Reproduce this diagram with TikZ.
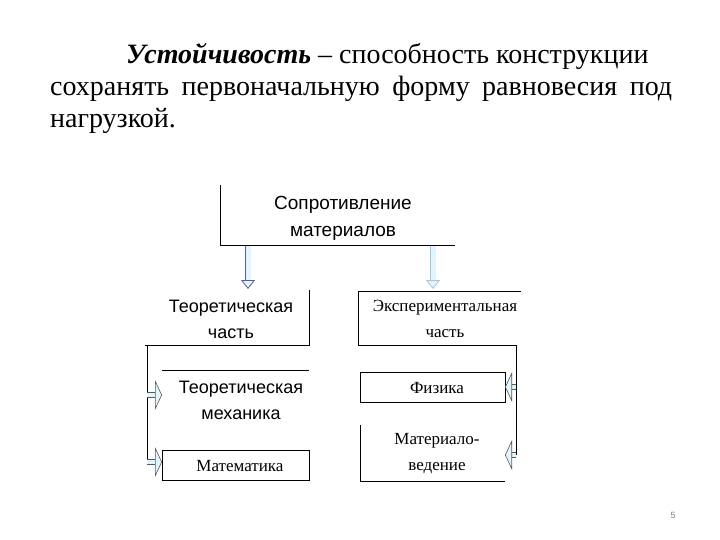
\documentclass[tikz,border=0pt]{standalone}
\usepackage{fontspec}
\setmainfont{Liberation Serif}
\setsansfont{Liberation Sans}
\usetikzlibrary{arrows.meta}

\begin{document}
\begin{tikzpicture}[x=1pt, y=-1pt]

\colorlet{cEdge}{blue!30!gray}
\colorlet{cFill}{cyan!12}
\colorlet{cPale}{cyan!35!gray!60}

\tikzset{
  title/.style  = {font=\fontsize{28}{32}\selectfont, anchor=base west, inner sep=0pt},
  sans/.style   = {font=\sffamily\fontsize{18}{26}\selectfont, align=center, inner sep=0pt},
  serif/.style  = {font=\fontsize{17}{26}\selectfont, align=center, inner sep=0pt},
  frame/.style  = {line width=1pt, black},
  downarrow/.style = {draw=cEdge, double=cFill, double distance=5pt, line width=0.8pt,
    -{Triangle[length=9pt, width=14pt, fill=cFill, line width=0.8pt]}},
  sidearrow/.style = {draw=gray!70!black, double=cFill, double distance=4pt, line width=0.6pt,
    -{Triangle[length=7pt, width=30pt, fill=cFill, line width=0.6pt]}},
}

\useasboundingbox (0,0) rectangle (720,540);

%% ---------- definition ----------
\node[title] (def1) at (126,64) {\textbf{\textit{Устойчивость}} – способность конструкции};
\node[title] (def2) at (50,96) {\makebox[622pt][s]{сохранять первоначальную форму равновесия под}};
\node[title] (def3) at (50,128) {нагрузкой.};

%% ---------- top ----------
\node[sans, font=\sffamily\fontsize{19}{27}\selectfont] (som) at (343,218) {Сопротивление\\материалов};
\draw[frame] (220,185) -- (220,245) -- (455,245);

\coordinate (somL) at (248,246);
\coordinate (somR) at (433,246);
\coordinate (teoIn) at (248,289);
\coordinate (expIn) at (433,289);
\draw[downarrow] (somL) -- (teoIn);
\draw[downarrow, draw=cPale] (somR) -- (expIn);

%% ---------- theory, left ----------
\node[sans] (teo) at (231,319) {Теоретическая\\часть};
\draw[frame] (309,290) -- (309,345) -- (145,345);

\node[sans] (mech) at (241,400) {Теоретическая\\механика};
\draw[frame] (162,370) -- (309,370);

\node[serif] (math) at (240,466) {Математика};
\draw[frame] (162,450) rectangle (309,480);

\coordinate (lbus0) at (147,345);
\coordinate (lbus1) at (147,395);
\coordinate (lbus2) at (147,462);
\coordinate (mechIn) at (162,395);
\coordinate (mathIn) at (162,462);
\draw[frame] (lbus0) -- (lbus2);
\draw[sidearrow] (lbus1) -- (mechIn);
\draw[sidearrow] (lbus2) -- (mathIn);

%% ---------- experiment, right ----------
\node[serif] (exp) at (445,319) {Экспериментальная\\часть};
\draw[frame] (521,291) -- (358,291) -- (358,345) -- (516,345);

\node[serif] (phys) at (437,388) {Физика};
\draw[frame] (360,372) rectangle (505,402);

\node[serif] (mat) at (437,454) {Материало-\\ведение};
\draw[frame] (360,425) -- (360,481) -- (505,481);

\coordinate (rbus0) at (516,345);
\coordinate (rbus1) at (516,387);
\coordinate (rbus2) at (516,455);
\coordinate (physIn) at (505,387);
\coordinate (matIn) at (505,455);
\draw[frame] (rbus0) -- (rbus2);
\draw[sidearrow] (rbus1) -- (physIn);
\draw[sidearrow] (rbus2) -- (matIn);

%% ---------- page ----------
\node[font=\sffamily\fontsize{9}{9}\selectfont, gray] (page) at (673,515) {5};

\end{tikzpicture}
\end{document}
